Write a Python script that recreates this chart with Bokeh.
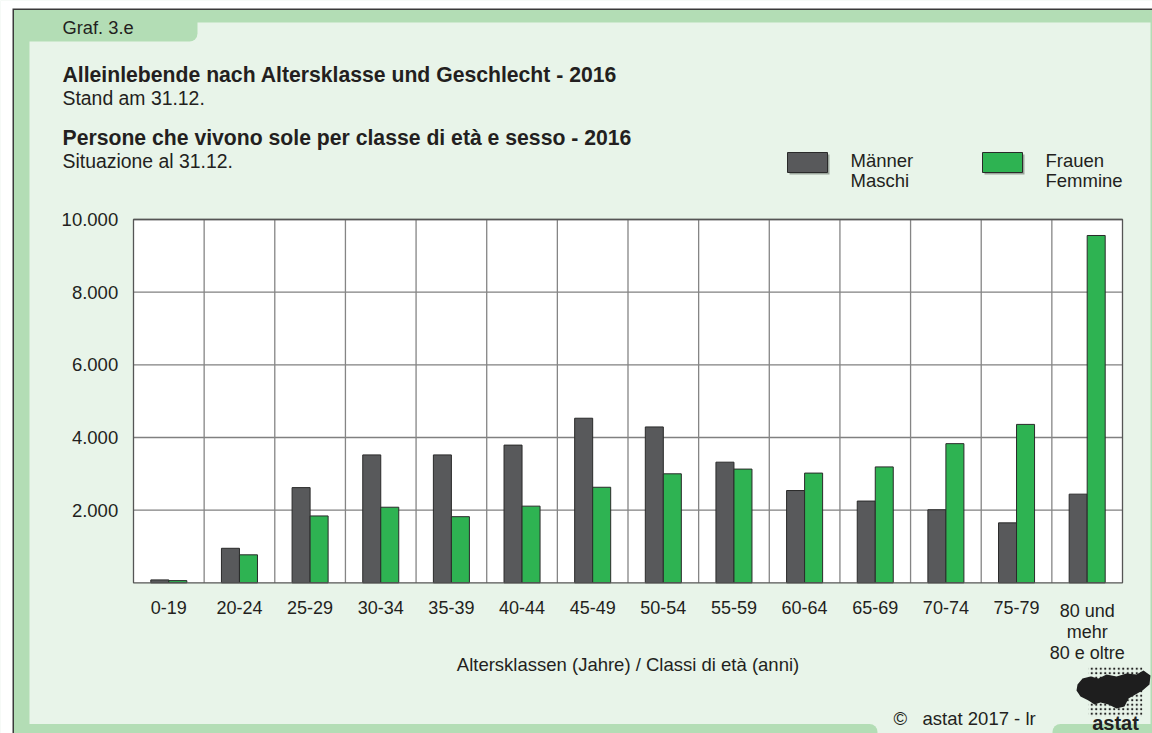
from bokeh.plotting import figure
from bokeh.models import Range1d, ColumnDataSource
from bokeh.core.properties import value
from bokeh.transform import dodge
from bokeh.embed import file_html
from bokeh.resources import INLINE

# ---------------- data ----------------
categories = ["0-19", "20-24", "25-29", "30-34", "35-39", "40-44", "45-49",
              "50-54", "55-59", "60-64", "65-69", "70-74", "75-79",
              "80 und\nmehr\n80 e oltre"]
male = [80, 950, 2620, 3520, 3520, 3790, 4530, 4290, 3320, 2540, 2250, 2010, 1650, 2440]
female = [60, 770, 1840, 2080, 1820, 2110, 2630, 3000, 3130, 3020, 3190, 3830, 4360, 9560]
y_ticks = [2000, 4000, 6000, 8000, 10000]
y_tick_labels = ["2.000", "4.000", "6.000", "8.000", "10.000"]

title_de = "Alleinlebende nach Altersklasse und Geschlecht - 2016"
sub_de = "Stand am 31.12."
title_it = "Persone che vivono sole per classe di età e sesso - 2016"
sub_it = "Situazione al 31.12."
graf_label = "Graf. 3.e"
legend_male = ["Männer", "Maschi"]
legend_female = ["Frauen", "Femmine"]
x_title = "Altersklassen (Jahre) / Classi di età (anni)"
credit = "©\u00a0\u00a0\u00a0astat 2017 - lr"
logo_text = "astat"

# ---------------- layout / style ----------------
FONT = "Liberation Sans"
TXT = "#231f20"
LIGHT = "#e8f4e9"
BAND = "#b3ddb5"
MALE_C = "#58595b"
FEMALE_C = "#2eb352"
EDGE = "#2a2a2a"
W, H = 1152, 733
PL, PR, PT, PB = 133.0, 1122.0, 219.0, 582.3      # plot area in canvas px
Y_MAX = y_ticks[-1]
N = len(categories)

# canvas-pixel frame (y grows downward) for decorations
p = figure(width=W, height=H, x_range=Range1d(0, W), y_range=Range1d(H, 0),
           output_backend="svg", toolbar_location=None,
           x_axis_location=None, y_axis_location=None,
           min_border=0, min_border_left=0, min_border_right=0,
           min_border_top=0, min_border_bottom=0)
p.grid.visible = False
p.outline_line_color = None
p.background_fill_color = LIGHT
p.border_fill_color = LIGHT

# data scales mapped onto the plot area
cw = (PR - PL) / N
py = (PB - PT) / Y_MAX
p.extra_x_ranges = {"cat": Range1d(-PL / cw, N + (W - PR) / cw)}
p.extra_y_ranges = {"val": Range1d(-(H - PB) / py, PB / py)}
D = dict(x_range_name="cat", y_range_name="val")


# ---------------- decorations ----------------
def q(l, r, t, b, color, **kw):
    p.quad(left=[l], right=[r], top=[t], bottom=[b], fill_color=color,
           line_color=None, **kw)


q(0, W, 0, H, "white")                    # outside margin
q(12, W, 8, H, "#3a3a3a")                 # dark edges
q(13.5, W, 9.5, H, LIGHT)
q(13.5, W, 9.5, 22, BAND)                 # top band
q(13.5, 197, 9.5, 41, BAND, border_radius=8)   # tab
q(13.5, 29, 9.5, H, BAND)                 # left band
q(1150, W, 9.5, H, BAND)                  # right edge
q(13.5, 877, 723.5, H + 12, BAND, border_radius=8)
q(1052, W + 12, 723.5, H + 12, BAND, border_radius=8)

# ---------------- chart ----------------
pos = [i + 0.5 for i in range(N)]
src = ColumnDataSource(dict(pos=pos, male=male, female=female, cat=categories))

p.quad(left=[0], right=[N], bottom=[0], top=[Y_MAX], fill_color="white",
       line_color=None, **D)
p.segment(x0=[0] * len(y_ticks), x1=[N] * len(y_ticks), y0=y_ticks, y1=y_ticks,
          line_color="#808080", line_width=1.3, **D)
bounds = list(range(1, N))
p.segment(x0=bounds, x1=bounds, y0=[0] * len(bounds), y1=[Y_MAX] * len(bounds),
          line_color="#858585", line_width=1.3, **D)

p.vbar(x=dodge("pos", -0.1275), top="male", width=0.255, source=src,
       fill_color=MALE_C, line_color=EDGE, line_width=1, **D)
p.vbar(x=dodge("pos", 0.1275), top="female", width=0.255, source=src,
       fill_color=FEMALE_C, line_color=EDGE, line_width=1, **D)

p.quad(left=[0], right=[N], bottom=[0], top=[Y_MAX], fill_alpha=0,
       line_color="#555555", line_width=1.3, **D)

common = dict(text_font=value(FONT), text_color=TXT)
p.text(x=[0] * len(y_ticks), y=y_ticks, text=y_tick_labels, x_offset=-15.3,
       text_align="right", text_baseline="middle",
       text_font_size=value("18.5px"), **common, **D)
p.text(x="pos", y=0, text="cat", source=src, y_offset=18.3,
       text_align="center", text_baseline="top", text_line_height=1.04,
       text_font_size=value("18px"), **common, **D)


# ---------------- free texts (y = visual centre) ----------------
def t(text, x, y, size="18px", bold=False, align="left", color=TXT):
    p.text(x=[x], y=[y], text=[text], text_font=value(FONT),
           text_font_size=value(size),
           text_font_style="bold" if bold else "normal",
           text_color=color, text_align=align, text_baseline="middle")


# legend swatches (shadow + box)
for left, col in ((787, MALE_C), (982, FEMALE_C)):
    q(left + 2, left + 42, 154, 174, "#9aa59b")
    p.quad(left=[left], right=[left + 40], top=[152], bottom=[172],
           fill_color=col, line_color=EDGE, line_width=1)

t(graf_label, 62, 27, "18.3px")
t(title_de, 62, 74.2, "21.2px", bold=True)
t(sub_de, 62, 97.3, "19.4px")
t(title_it, 62, 136.5, "21.2px", bold=True)
t(sub_it, 62, 160, "19.4px")
t(legend_male[0], 850, 160, "18.5px")
t(legend_male[1], 850, 179.7, "18.5px")
t(legend_female[0], 1045, 160, "18.5px")
t(legend_female[1], 1045, 179.7, "18.5px")
t(x_title, (PL + PR) / 2, 664, "18.5px", align="center")
t(credit, 893, 717.5, "18.5px")

# logo
p.quad(left=[1088], right=[1142], top=[666], bottom=[716], fill_alpha=0,
       line_color=None, hatch_pattern="dot", hatch_color="#222222",
       hatch_scale=4.5, hatch_weight=1.8)
blob_x = [1077, 1082, 1090, 1098, 1106, 1116, 1126, 1136, 1143, 1150, 1149,
          1142, 1135, 1128, 1124, 1116, 1108, 1100, 1094, 1088, 1080, 1076]
blob_y = [684, 678, 676, 678, 674, 676, 673, 674, 670, 675, 684,
          690, 694, 698, 706, 708, 704, 702, 704, 700, 696, 690]
p.patch(x=blob_x, y=blob_y, fill_color="#1e1e1e", line_color=None)
t(logo_text, 1115, 722, "20px", bold=True, align="center", color="#222222")

open("out.html", "w").write(file_html(p, INLINE))
